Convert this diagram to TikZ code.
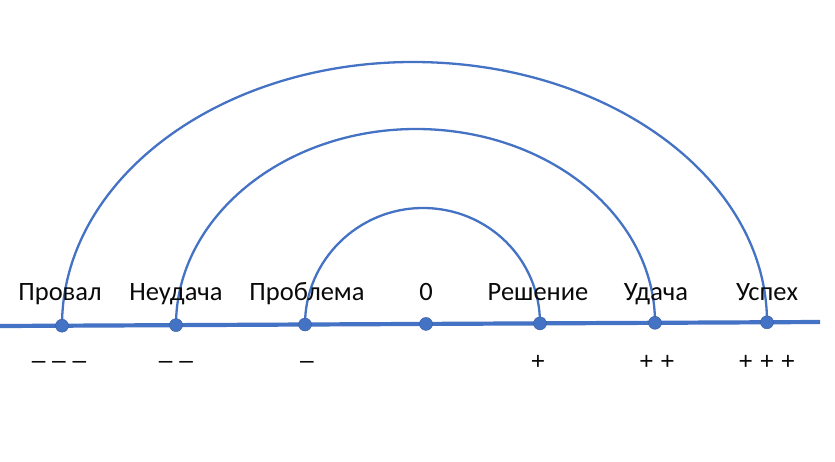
\documentclass[tikz,border=0pt]{standalone}
\usepackage{fontspec}
\setmainfont{Carlito}
\newfontfamily\signfont{Liberation Sans}
\usepackage{tikz}
\usepackage{xcolor}
\usetikzlibrary{positioning, calc, backgrounds}
\definecolor{cBlue}{RGB}{68,114,196}
\definecolor{cText}{RGB}{10,10,10}
\tikzset{
	axisline/.style={draw=cBlue, line width=4.2pt},
	arcline/.style ={draw=cBlue, line width=2.3pt},
	pointdot/.style={circle, fill=cBlue, draw=cBlue!80!black, line width=0.4pt, inner sep=0pt, minimum size=13pt},
	% scale labels
	lbl/.style     ={anchor=base, inner sep=0pt, text=cText, font=\fontsize{26.5}{31}\selectfont},
	sgn/.style     ={anchor=base, inner sep=0pt, text=cText, font=\signfont\fontsize{24.5}{30}\selectfont},
}
\begin{document}
\begin{tikzpicture}[x=1pt, y=-1pt]
	\useasboundingbox (0,0) rectangle (835,461);
	% points on the scale
	\node[pointdot] (dProval)   at (62,325.7)  {};
	\node[pointdot] (dNeudacha) at (176,325.1) {};
	\node[pointdot] (dProblema) at (305,324.5) {};
	\node[pointdot] (dZero)     at (426,323.9) {};
	\node[pointdot] (dReshenie) at (540,323.4) {};
	\node[pointdot] (dUdacha)   at (655,322.8) {};
	\node[pointdot] (dUspeh)    at (767,322.3) {};
	\coordinate (lineL) at (0,326);
	\coordinate (lineR) at (820,322);
	\coordinate (topOuter) at (413,62);
	\coordinate (topMiddle) at (416,129);
	\coordinate (topInner) at (423,208);
	\begin{scope}[on background layer]
		\draw[axisline] (lineL) -- (lineR);
		\draw[arcline] (dProval.center) .. controls +(0,-146) and +(-194,0) .. (topOuter)
			.. controls +(195,0) and +(0,-144) .. (dUspeh.center);
		\draw[arcline] (dNeudacha.center) .. controls +(0,-108) and +(-132,0) .. (topMiddle)
			.. controls +(132,0) and +(0,-107) .. (dUdacha.center);
		\draw[arcline] (dProblema.center) .. controls +(0,-64) and +(-65,0) .. (topInner)
			.. controls +(65,0) and +(0,-64) .. (dReshenie.center);
	\end{scope}
	% words above
	\node[lbl] (tProval)   at (60,300)  {Провал};
	\node[lbl] (tNeudacha) at (176,300) {Неудача};
	\node[lbl] (tProblema) at (307,300) {Проблема};
	\node[lbl] (tZero)     at (426,300) {0};
	\node[lbl] (tReshenie) at (538,300) {Решение};
	\node[lbl] (tUdacha)   at (656,300) {Удача};
	\node[lbl] (tUspeh)    at (767,300) {Успех};
	% signs below
	\node[sgn] (sProval)   at (59,368)  {– – –};
	\node[sgn] (sNeudacha) at (176,368) {– –};
	\node[sgn] (sProblema) at (307,368) {–};
	\node[sgn] (sReshenie) at (538,369) {+};
	\node[sgn] (sUdacha)   at (657,369) {+ +};
	\node[sgn] (sUspeh)    at (767,369) {+ + +};
\end{tikzpicture}
\end{document}
